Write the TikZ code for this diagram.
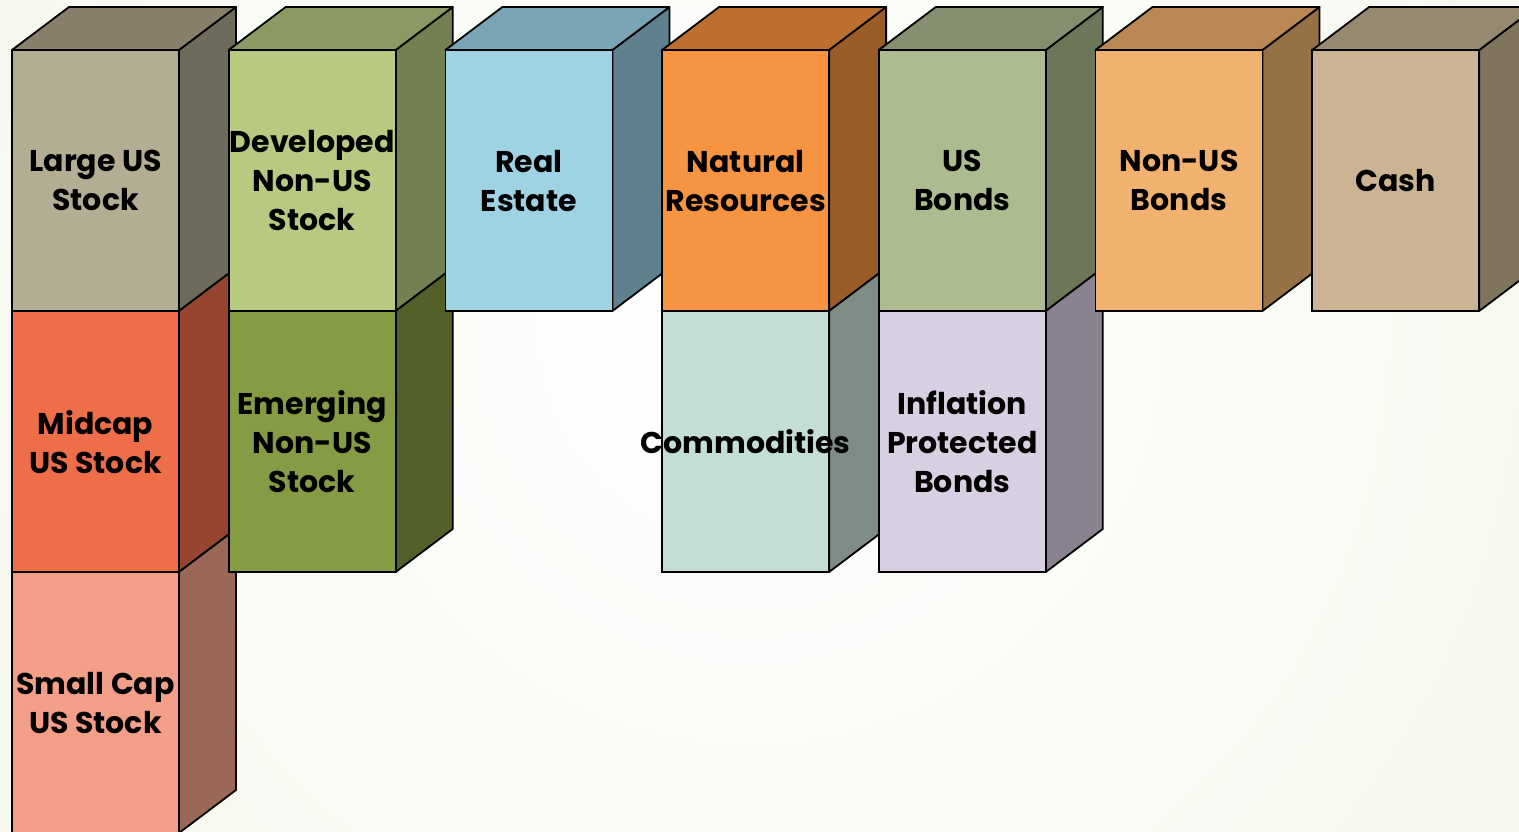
\documentclass[tikz,border=0pt]{standalone}
\usepackage{fontspec}
\setmainfont{Poppins}
\usetikzlibrary{positioning}

\pgfdeclarelayer{background}
\pgfsetlayers{background,main}

% front / top / side colours of the boxes
\definecolor{largefront}{HTML}{B3AD94}
\definecolor{largetop}{HTML}{877F6A}
\definecolor{largeside}{HTML}{6F6B5A}
\definecolor{midfront}{HTML}{EF6E4A}
\definecolor{midside}{HTML}{984530}
\definecolor{smallfront}{HTML}{F39E87}
\definecolor{smallside}{HTML}{9B6757}
\definecolor{devfront}{HTML}{B8CA82}
\definecolor{devtop}{HTML}{8A9A62}
\definecolor{devside}{HTML}{738150}
\definecolor{emfront}{HTML}{859B44}
\definecolor{emside}{HTML}{536028}
\definecolor{refront}{HTML}{9FD2E3}
\definecolor{retop}{HTML}{78A4B4}
\definecolor{reside}{HTML}{5F818E}
\definecolor{natfront}{HTML}{F79441}
\definecolor{nattop}{HTML}{BD6F30}
\definecolor{natside}{HTML}{9B5D28}
\definecolor{comfront}{HTML}{C3DFD4}
\definecolor{comside}{HTML}{7D8D86}
\definecolor{usbfront}{HTML}{ADBC90}
\definecolor{usbtop}{HTML}{858E6F}
\definecolor{usbside}{HTML}{6C775A}
\definecolor{tipsfront}{HTML}{D8CFE3}
\definecolor{tipsside}{HTML}{8A8290}
\definecolor{nonusfront}{HTML}{F0B26E}
\definecolor{nonustop}{HTML}{B98853}
\definecolor{nonusside}{HTML}{977146}
\definecolor{cashfront}{HTML}{CBB394}
\definecolor{cashtop}{HTML}{978870}
\definecolor{cashside}{HTML}{80745E}
\definecolor{bggreen}{HTML}{E9EFDA}

\begin{document}
\begin{tikzpicture}[x=1pt, y=1pt, node distance=0pt,
  front/.style={draw, line width=1.8pt, minimum width=167pt, minimum height=261pt,
    inner sep=0pt, outer sep=0pt, align=center, text depth=0pt,
    font=\fontsize{30}{39}\selectfont\bfseries},
  face/.style={draw, line width=1.8pt, line join=round}]

\useasboundingbox (0,0) rectangle (1519,832);
\begin{pgfonlayer}{background}
\begin{scope}
\clip (0,0) rectangle (1519,832);
\shade[inner color=white, outer color=bggreen] (750,500) circle (1900);
\end{scope}
\end{pgfonlayer}

% stock columns
\node (large) [front, fill=largefront] at (95.5,651.5) {Large US\\Stock};
\node (midcap) [front, fill=midfront, below=of large] {Midcap\\US Stock};
\node (small) [front, fill=smallfront, below=of midcap] {Small Cap\\US Stock};
\node (developed) [front, fill=devfront, right=49.7pt of large] {Developed\\Non-US\\Stock};
\node (emerging) [front, fill=emfront, below=of developed] {Emerging\\Non-US\\Stock};

% real assets
\node (realestate) [front, fill=refront, right=49.7pt of developed] {Real\\Estate};
\node (natural) [front, fill=natfront, right=49.7pt of realestate] {Natural\\Resources};
\node (commodities) [front, fill=comfront, below=of natural] {\makebox[0pt]{Commodities}};

% bonds and cash
\node (usbonds) [front, fill=usbfront, right=49.7pt of natural] {US\\Bonds};
\node (tips) [front, fill=tipsfront, below=of usbonds] {Inflation\\Protected\\Bonds};
\node (nonusbonds) [front, fill=nonusfront, right=49.7pt of usbonds] {Non-US\\Bonds};
\node (cash) [front, fill=cashfront, right=49.7pt of nonusbonds] {Cash};

% side and top faces behind the fronts
\begin{pgfonlayer}{background}
\foreach \n/\c in {large/largeside, midcap/midside, small/smallside,
    developed/devside, emerging/emside, realestate/reside, natural/natside,
    commodities/comside, usbonds/usbside, tips/tipsside,
    nonusbonds/nonusside, cash/cashside}
  \draw[face, fill=\c] (\n.south east) -- (\n.north east) -- ++(57pt,43pt)
    -- ++(0,-261pt) -- cycle;
\foreach \n/\c in {large/largetop, developed/devtop, realestate/retop,
    natural/nattop, usbonds/usbtop, nonusbonds/nonustop, cash/cashtop}
  \draw[face, fill=\c] (\n.north west) -- ++(57pt,43pt) -- ++(167pt,0)
    -- (\n.north east) -- cycle;
\end{pgfonlayer}
\end{tikzpicture}
\end{document}
